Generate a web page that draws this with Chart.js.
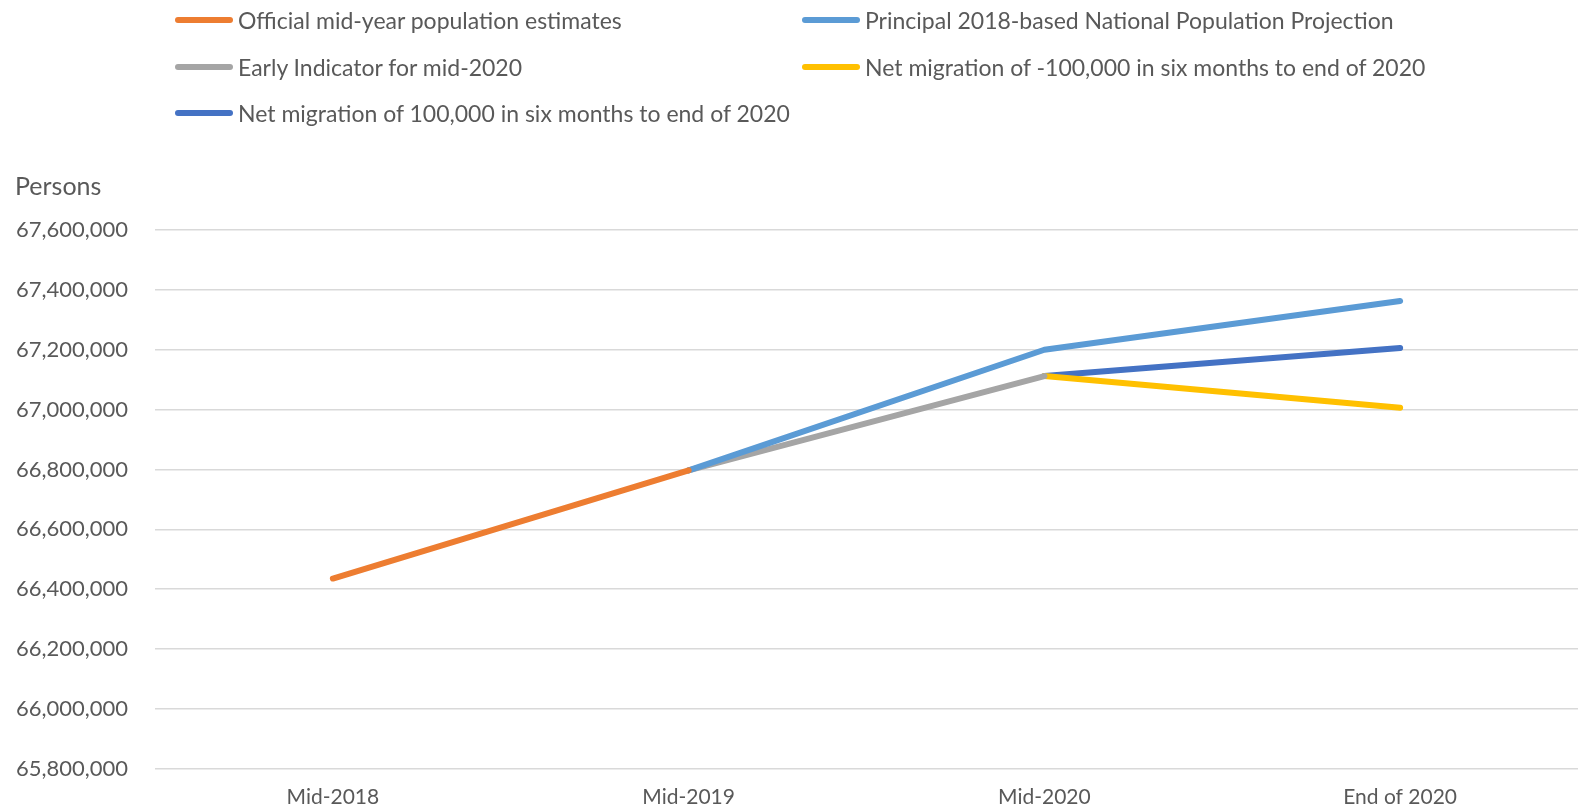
<!DOCTYPE html>
<html>
<head>
<meta charset="utf-8">
<script src="https://cdn.jsdelivr.net/npm/chart.js@4/dist/chart.umd.min.js"></script>
<style>
  html, body { margin: 0; padding: 0; background: #fff; }
  #wrap { position: relative; width: 1583px; height: 809px; }
  #legend {
    position: absolute; left: 175px; top: 0;
    display: grid; grid-template-columns: 627px auto; grid-auto-rows: 46.5px;
    font-family: Lato, "Open Sans", sans-serif; font-size: 23px; color: #595959;
  }
  #legend .item { display: flex; align-items: center; height: 46.5px; margin-top: -3px; }
  #legend .swatch { width: 58px; height: 6px; border-radius: 3px; margin-right: 5px; }
</style>
</head>
<body>
<div id="wrap">
  <canvas id="container"></canvas>
  <div id="legend"></div>
</div>
<script>
const categories = ["Mid-2018", "Mid-2019", "Mid-2020", "End of 2020"];

const seriesNames = [
  "Official mid-year population estimates",
  "Principal 2018-based National Population Projection",
  "Early Indicator for mid-2020",
  "Net migration of -100,000 in six months to end of 2020",
  "Net migration of 100,000 in six months to end of 2020",
];

const officialEstimates = [66435600, 66796800, null, null];
const principalProjection = [null, 66796800, 67200000, 67363000];
const earlyIndicator = [null, 66796800, 67112000, null];
const netMigrationMinus = [null, null, 67112000, 67006000];
const netMigrationPlus = [null, null, 67112000, 67206000];

const colors = ["#ED7D31", "#5B9BD5", "#A5A5A5", "#FFC000", "#4472C4"];

const yMin = 65800000;
const yMax = 67600000;
const yStep = 200000;

const textColor = "#595959";
const fontFamily = "Lato, 'Open Sans', sans-serif";

const seriesValues = [
  officialEstimates,
  principalProjection,
  earlyIndicator,
  netMigrationMinus,
  netMigrationPlus,
];

const datasets = seriesValues.map((values, i) => ({
  label: seriesNames[i],
  data: values,
  borderColor: colors[i],
  backgroundColor: colors[i],
  borderWidth: 6,
  borderCapStyle: "round",
  borderJoinStyle: "round",
  pointRadius: 0,
  pointHoverRadius: 0,
  tension: 0,
  spanGaps: false,
  fill: false,
}));

const chart = new Chart(document.getElementById("container"), {
  type: "line",
  data: { labels: categories, datasets },
  options: {
    responsive: true,
    maintainAspectRatio: false,
    animation: false,
    layout: { padding: { left: 15, right: 5, top: 0, bottom: 0 } },
    plugins: {
      legend: { display: false },
      tooltip: { enabled: false },
      title: {
        display: true,
        text: "Persons",
        align: "start",
        color: textColor,
        font: { family: fontFamily, size: 25, weight: "normal" },
        padding: { top: 172, bottom: 28 },
      },
    },
    scales: {
      x: {
        offset: true,
        grid: { display: false, drawTicks: false },
        border: { display: false },
        ticks: {
          color: textColor,
          font: { family: fontFamily, size: 21 },
          padding: 16,
          maxRotation: 0,
        },
        afterFit: (scale) => { scale.height = 40; },
      },
      y: {
        min: yMin,
        max: yMax,
        border: { display: false },
        grid: { color: "#D9D9D9", lineWidth: 1.5, drawTicks: false },
        ticks: {
          stepSize: yStep,
          color: textColor,
          font: { family: fontFamily, size: 22 },
          padding: 27,
          callback: (v) => v.toLocaleString("en-GB"),
        },
        afterFit: (scale) => { scale.width = 140; },
      },
    },
  },
});

// legend laid out in two columns, built from the chart's datasets
const legendEl = document.getElementById("legend");
chart.data.datasets.forEach((ds) => {
  const item = document.createElement("div");
  item.className = "item";
  const sw = document.createElement("span");
  sw.className = "swatch";
  sw.style.background = ds.borderColor;
  const txt = document.createElement("span");
  txt.textContent = ds.label;
  item.appendChild(sw);
  item.appendChild(txt);
  legendEl.appendChild(item);
});
</script>
</body>
</html>
